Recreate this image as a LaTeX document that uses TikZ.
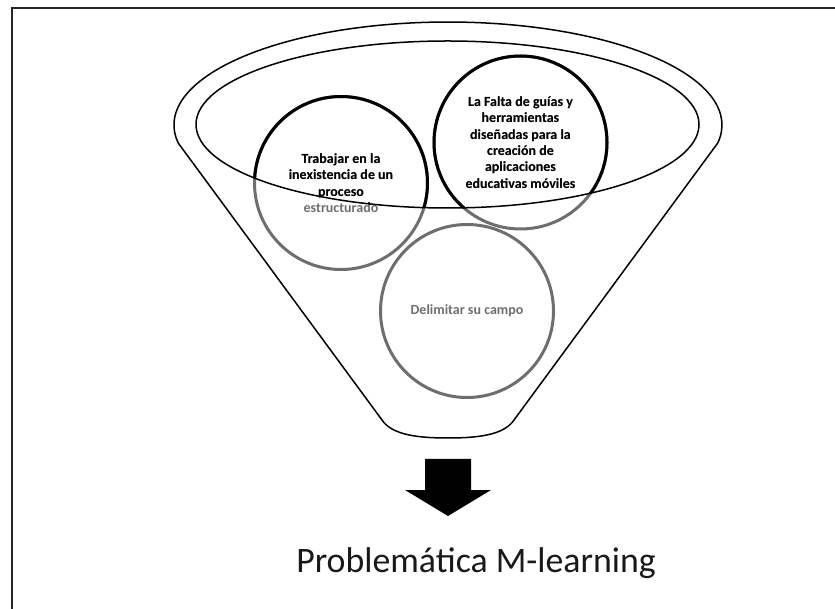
\documentclass[tikz,border=0pt]{standalone}
\usepackage{fontspec}
\setmainfont{Carlito}
\definecolor{ringgray}{HTML}{6E6E6E}
\begin{document}
\begin{tikzpicture}[x=1pt,y=1pt,
  ring/.style={circle, draw=ringgray, text=ringgray, line width=3pt,
    minimum size=173pt, inner sep=0pt, align=center,
    font=\bfseries\fontsize{14}{16.3}\selectfont},
  inked/.style={draw=black, text=black},
  funnel/.style={line width=1.5pt, line join=round},
  frameline/.style={line width=2pt, draw=black!85}]
\useasboundingbox (0,0) rectangle (835,608);
\draw[frameline] (12,600) rectangle (850,-15);

% the three circles, grey outside the funnel mouth
\node[ring] (trabajo) at (341,425) {Trabajar en la\\inexistencia de un\\proceso\\estructurado};
\node[ring] (falta) at (520.5,465.5) {La Falta de guías y\\herramientas\\diseñadas para la\\creación de\\aplicaciones\\educativas móviles};
\node[ring] (campo) at (467,297) {Delimitar su campo};

% inside the mouth the same circles are inked black
\begin{scope}
  \clip (447.5,483.5) ellipse [x radius=251.5pt, y radius=83.5pt];
  \node[ring, inked] (trabajoIn) at (341,425) {Trabajar en la\\inexistencia de un\\proceso\\estructurado};
  \node[ring, inked] (faltaIn) at (520.5,465.5) {La Falta de guías y\\herramientas\\diseñadas para la\\creación de\\aplicaciones\\educativas móviles};
\end{scope}

% funnel body and mouth
\draw[funnel] (178.2,465) arc [start angle=190.06, end angle=-10.06, x radius=274pt, y radius=103pt]
  -- (514,188) .. controls (504,173) and (478,170) .. (448,170)
  .. controls (418,170) and (392,173) .. (382,188) -- cycle;
\draw[funnel] (447.5,483.5) ellipse [x radius=251.5pt, y radius=83.5pt];

% block arrow
\fill (425,149) -- (471,149) -- (471,118) -- (491,118) -- (448,92) -- (405,118) -- (425,118) -- cycle;

\node[anchor=base, font=\fontsize{35.8}{42}\selectfont, text=black!90] (titulo) at (476,36) {Problemática M-learning};
\end{tikzpicture}
\end{document}
